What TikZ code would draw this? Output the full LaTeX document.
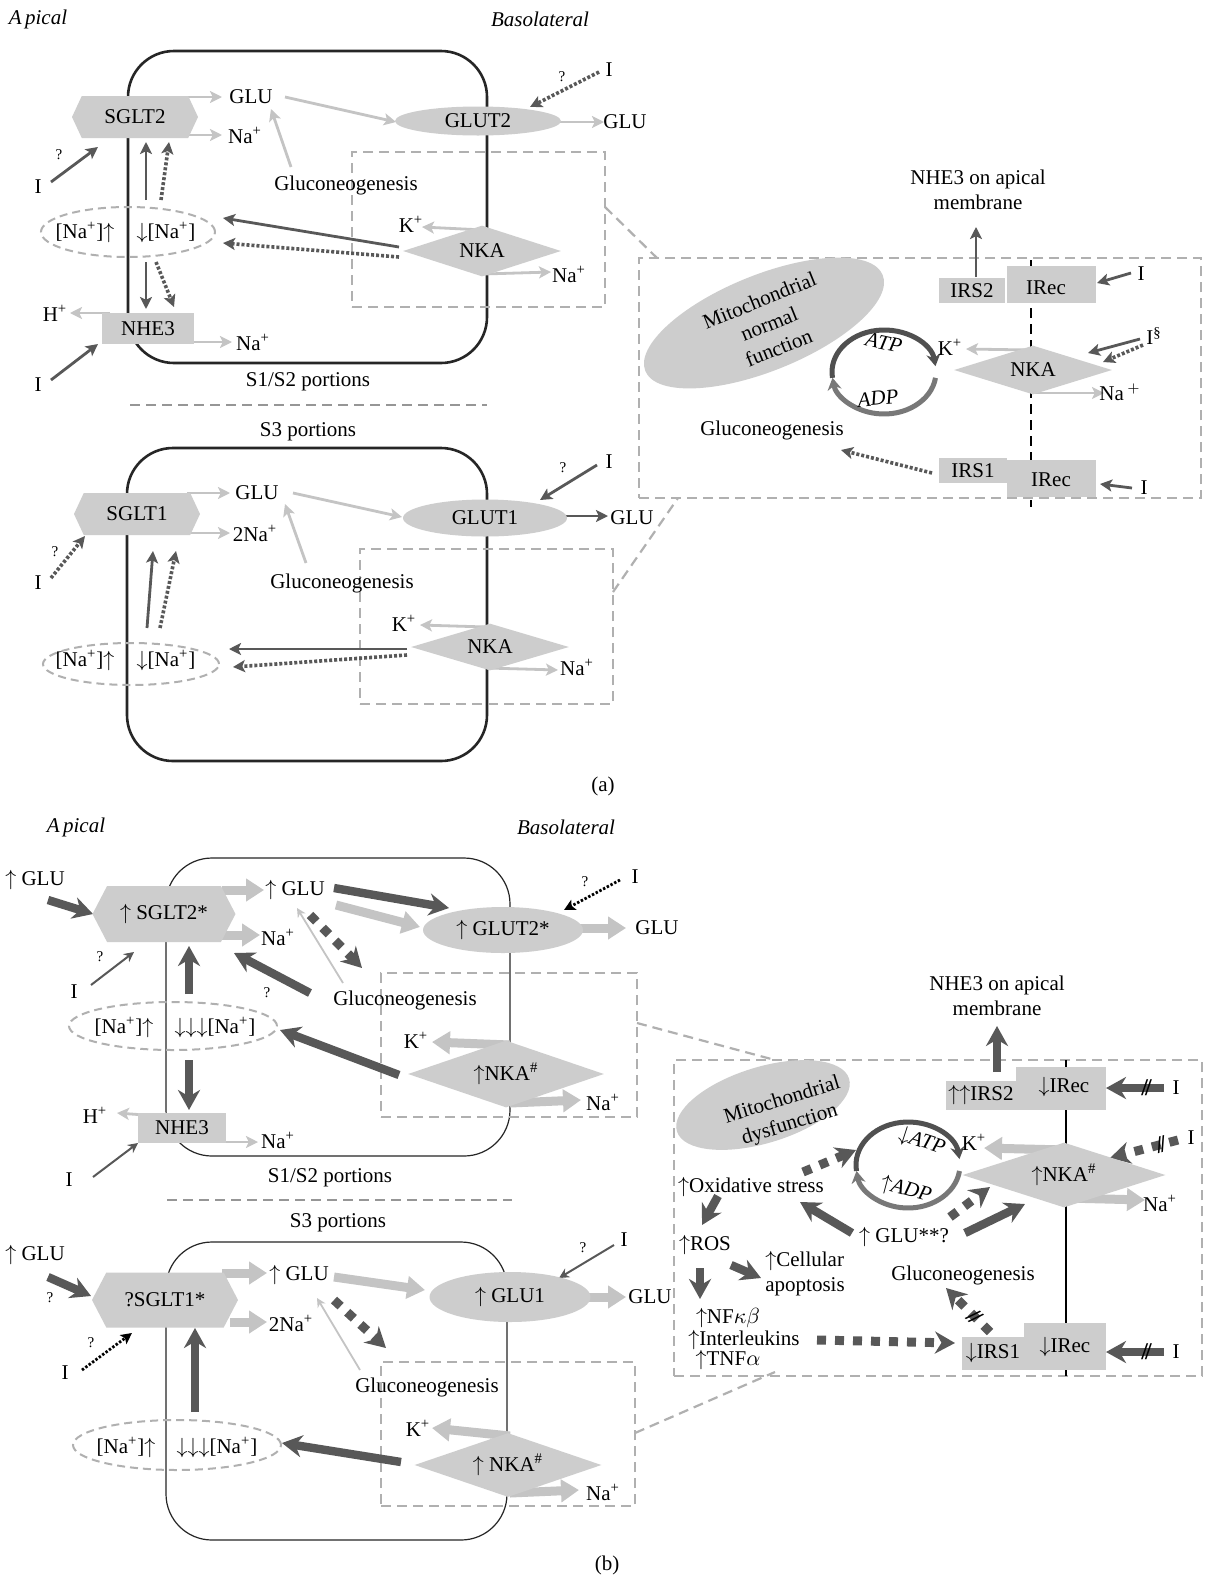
\documentclass[tikz,border=0pt]{standalone}
\usepackage{fontspec}
\setmainfont{Liberation Serif}
\usetikzlibrary{arrows.meta,shapes.geometric,shapes.symbols}
\definecolor{shg}{RGB}{205,205,205}
\definecolor{lgr}{RGB}{196,196,196}
\definecolor{dgr}{RGB}{88,88,88}
\definecolor{bxg}{RGB}{176,176,176}
\definecolor{cyA}{RGB}{80,80,80}
\definecolor{cyB}{RGB}{120,120,120}
\begin{document}
\begin{tikzpicture}[x=0.5pt,y=-0.5pt,
  every node/.style={inner sep=1pt, font=\fontsize{10.5}{12.5}\selectfont},
  it/.style={font=\itshape\fontsize{10.5}{12.5}\selectfont},
  q/.style={font=\fontsize{7.5}{8}\selectfont},
  cellA/.style={draw=black!85, line width=1.3pt, rounded corners=23pt, rectangle},
  cellB/.style={draw=black!85, line width=0.6pt, rounded corners=23pt, rectangle},
  dbox/.style={draw=bxg, line width=1.1pt, dash pattern=on 5pt off 3pt, rectangle},
  dln/.style={draw=bxg, line width=1.1pt, dash pattern=on 5pt off 3pt},
  dell/.style={ellipse, draw=bxg, line width=1pt, dash pattern=on 4pt off 2.5pt, inner sep=0},
  hexa/.style={signal, signal to=west and east, signal pointer angle=130, fill=shg, inner sep=0},
  ells/.style={ellipse, fill=shg, inner sep=0},
  dias/.style={diamond, aspect=3, fill=shg, inner sep=0},
  recs/.style={rectangle, fill=shg, inner sep=0},
  la/.style={draw=lgr, line width=1.4pt, -{Stealth[length=6pt,width=6pt,inset=1.4pt]}},
  da/.style={draw=dgr, line width=1.4pt, -{Stealth[length=6pt,width=6pt,inset=1.4pt]}},
  dd/.style={draw=dgr, line width=1.8pt, dash pattern=on 1.5pt off 1pt, -{Stealth[length=6pt,width=6pt,inset=1.4pt]}},
  bd/.style={draw=black, line width=1.4pt, dash pattern=on 1.2pt off 0.9pt, -{Stealth[length=5.5pt,width=5.5pt,inset=1.2pt]}},
  tla/.style={draw=lgr, line width=0.9pt, -{Stealth[length=4.5pt,width=4.5pt]}},
  tda/.style={draw=dgr, line width=1pt, -{Stealth[length=5pt,width=5pt]}},
  LA/.style={draw=lgr, line width=4.5pt, -{Triangle[length=9pt,width=11pt]}},
  DA/.style={draw=dgr, line width=4.2pt, -{Stealth[length=10pt,width=11pt]}},
  DD/.style={draw=dgr, line width=4.5pt, dash pattern=on 4.5pt off 4.5pt, -{Stealth[length=10pt,width=11pt]}},
  hashm/.style={sloped, inner sep=0, font=\bfseries\fontsize{12}{12}\selectfont, text=black},
  cyc1/.style={draw=cyA, line width=2.5pt, -{Stealth[length=6pt,width=7pt]}},
  cyc2/.style={draw=cyB, line width=2.5pt, -{Stealth[length=6pt,width=7pt]}},
  vdash/.style={draw=black, line width=1.1pt, dash pattern=on 5pt off 3pt},
  sepl/.style={draw=bxg!85!black, line width=1.1pt, dash pattern=on 5pt off 3pt}
]
\fill[white] (0,0) rectangle (1207,1575);
\useasboundingbox (0,0) rectangle (1207,1575);

% ================= (a) S1/S2 =================
\node[it] (apA) at (38,19) {A\,pical};
\node[it] (basA) at (540,19) {Basolateral};
\node[cellA, minimum width=179.5pt, minimum height=156pt] (cellA1) at (307.5,207) {};
\node[dbox, minimum width=126.5pt, minimum height=77.5pt] (boxA1) at (478.5,229.5) {};

\coordinate (a01) at (185,97); \coordinate (a02) at (222,97);
\coordinate (a03) at (185,135); \coordinate (a04) at (222,135);
\coordinate (a05) at (285,97); \coordinate (a06) at (396,122);
\coordinate (a07) at (291,167); \coordinate (a08) at (271,109);
\coordinate (a09) at (555,122); \coordinate (a10) at (604,122);
\coordinate (a11) at (599,72); \coordinate (a12) at (530,107);
\coordinate (a13) at (484,230); \coordinate (a14) at (422,227);
\coordinate (a15) at (484,274); \coordinate (a16) at (551,272);
\coordinate (a17) at (399,247); \coordinate (a18) at (223,218);
\coordinate (a19) at (399,257); \coordinate (a20) at (223,243);
\coordinate (a21) at (146,200); \coordinate (a22) at (146,142);
\coordinate (a23) at (161,200); \coordinate (a24) at (169,142);
\coordinate (a25) at (146,262); \coordinate (a26) at (146,309);
\coordinate (a27) at (156,262); \coordinate (a28) at (174,307);
\coordinate (a29) at (110,313); \coordinate (a30) at (70,313);
\coordinate (a31) at (188,342); \coordinate (a32) at (232,342);
\coordinate (a33) at (51,182); \coordinate (a34) at (98,147);
\coordinate (a35) at (51,380); \coordinate (a36) at (98,344);

\draw[la] (a01) -- (a02);
\draw[la] (a03) -- (a04);
\draw[la] (a05) -- (a06);
\draw[la] (a07) -- (a08);
\draw[la] (a09) -- (a10);
\draw[dd] (a11) -- (a12);
\draw[la] (a13) -- (a14);
\draw[la] (a15) -- (a16);
\draw[da] (a17) -- (a18);
\draw[dd] (a19) -- (a20);
\draw[da] (a21) -- (a22);
\draw[dd] (a23) -- (a24);
\draw[da] (a25) -- (a26);
\draw[dd] (a27) -- (a28);
\draw[la] (a29) -- (a30);
\draw[la] (a31) -- (a32);
\draw[da] (a33) -- (a34);
\draw[da] (a35) -- (a36);

\node[hexa, minimum width=63pt, minimum height=21pt] (sglt2) at (135,117) {SGLT2};
\node[ells, minimum width=83pt, minimum height=14.5pt] (glut2) at (478,121) {GLUT2};
\node[dias, minimum width=79pt, minimum height=25.5pt] (nkaA1) at (482,251) {NKA};
\node[recs, minimum width=46pt, minimum height=15.5pt] (nhe3) at (148,328.5) {NHE3};
\node[dell, minimum width=87pt, minimum height=25pt] (naeA1) at (128,232) {};
\node (naiA1) at (85,232) {[Na\textsuperscript{+}]$\uparrow$};
\node (nadA1) at (166,232) {$\downarrow$[Na\textsuperscript{+}]};
\node (gluA1) at (251,97) {GLU};
\node (naA1) at (245,135) {Na\textsuperscript{+}};
\node (gngA1) at (346,185) {Gluconeogenesis};
\node (gluA2) at (625,122) {GLU};
\node (iA1) at (609,70) {I};
\node[q] (qA1) at (562,77) {?};
\node (iA2) at (38,187) {I};
\node[q] (qA2) at (59,155) {?};
\node (iA3) at (38,385) {I};
\node (hA1) at (55,313) {H\textsuperscript{+}};
\node (naA2) at (253,342) {Na\textsuperscript{+}};
\node (kA1) at (411,224) {K\textsuperscript{+}};
\node (naA3) at (569,274) {Na\textsuperscript{+}};
\node (s12A) at (308,382) {S1/S2 portions};

\coordinate (sepA1) at (130,405); \coordinate (sepA2) at (487,405);
\draw[sepl] (sepA1) -- (sepA2);

% ================= (a) S3 =================
\node (s3A) at (308,432) {S3 portions};
\node[cellA, minimum width=180pt, minimum height=156.5pt] (cellA2) at (307,604.5) {};
\node[dbox, minimum width=126.5pt, minimum height=77.5pt] (boxA2) at (486.5,626.5) {};

\coordinate (b01) at (187,493); \coordinate (b02) at (230,493);
\coordinate (b03) at (187,533); \coordinate (b04) at (230,533);
\coordinate (b05) at (293,493); \coordinate (b06) at (402,517);
\coordinate (b07) at (306,563); \coordinate (b08) at (285,504);
\coordinate (b09) at (562,516); \coordinate (b10) at (608,516);
\coordinate (b11) at (597,465); \coordinate (b12) at (540,500);
\coordinate (b13) at (487,627); \coordinate (b14) at (420,625);
\coordinate (b15) at (487,668); \coordinate (b16) at (558,670);
\coordinate (b17) at (407,649); \coordinate (b18) at (229,649);
\coordinate (b19) at (407,655); \coordinate (b20) at (233,667);
\coordinate (b21) at (147,628); \coordinate (b22) at (153,551);
\coordinate (b23) at (160,628); \coordinate (b24) at (176,551);
\coordinate (b25) at (51,578); \coordinate (b26) at (85,536);

\draw[la] (b01) -- (b02);
\draw[la] (b03) -- (b04);
\draw[la] (b05) -- (b06);
\draw[la] (b07) -- (b08);
\draw[da] (b09) -- (b10);
\draw[da] (b11) -- (b12);
\draw[la] (b13) -- (b14);
\draw[la] (b15) -- (b16);
\draw[da] (b17) -- (b18);
\draw[dd] (b19) -- (b20);
\draw[da] (b21) -- (b22);
\draw[dd] (b23) -- (b24);
\draw[dd] (b25) -- (b26);

\node[hexa, minimum width=63pt, minimum height=21pt] (sglt1) at (137,514) {SGLT1};
\node[ells, minimum width=82pt, minimum height=18.5pt] (glut1) at (485,518) {GLUT1};
\node[dias, minimum width=79pt, minimum height=23.5pt] (nkaA2) at (490,647) {NKA};
\node[dell, minimum width=88pt, minimum height=21pt] (naeA2) at (131,664) {};
\node (naiA2) at (85,660) {[Na\textsuperscript{+}]$\uparrow$};
\node (nadA2) at (166,660) {$\downarrow$[Na\textsuperscript{+}]};
\node (gluA3) at (257,493) {GLU};
\node (naA4) at (255,533) {2Na\textsuperscript{+}};
\node (gngA2) at (342,583) {Gluconeogenesis};
\node (gluA4) at (632,518) {GLU};
\node (iA4) at (609,462) {I};
\node[q] (qA4) at (563,468) {?};
\node (kA2) at (404,623) {K\textsuperscript{+}};
\node (naA5) at (577,667) {Na\textsuperscript{+}};
\node (iA5) at (38,583) {I};
\node[q] (qA5) at (55,552) {?};
\node (labA) at (603,786) {(a)};

% ================= (a) inset =================
\node[dbox, minimum width=281pt, minimum height=120pt] (insA) at (920,378) {};
\coordinate (c01) at (605,207); \coordinate (c02) at (657,258);
\coordinate (c03) at (613,592); \coordinate (c04) at (678,498);
\draw[dln] (c01) -- (c02);
\draw[dln] (c03) -- (c04);

\node[ells, minimum width=128pt, minimum height=48pt, rotate=22] (mitoA) at (764,323) {};
\node[rotate=22, align=center, font=\fontsize{10.5}{12.8}\selectfont] (mitoAt) at (769,324) {Mitochondrial\\normal\\function};

\coordinate (cycA) at (884,372);
\begin{scope}[shift={(cycA)}, x=0.5pt, y=0.5pt]
  \draw[cyc1] (188:52 and 42) arc[start angle=188, end angle=8, x radius=52, y radius=42];
  \draw[cyc2] (-8:52 and 42) arc[start angle=-8, end angle=-172, x radius=52, y radius=42];
\end{scope}
\node[it, rotate=-12] (atpA) at (884,343) {ATP};
\node[it, rotate=6] (adpA) at (878,398) {ADP};

\coordinate (c09) at (1031,260); \coordinate (c10) at (1031,507);
\draw[vdash] (c09) -- (c10);

\coordinate (c05) at (1031,350); \coordinate (c06) at (966,349);
\coordinate (c07) at (1031,393); \coordinate (c08) at (1104,393);
\coordinate (c11) at (976,277); \coordinate (c12) at (976,227);
\coordinate (c13) at (1131,273); \coordinate (c14) at (1097,283);
\coordinate (c15) at (1140,339); \coordinate (c16) at (1088,353);
\coordinate (c17) at (1143,345); \coordinate (c18) at (1103,362);
\coordinate (c19) at (1132,488); \coordinate (c20) at (1100,484);
\coordinate (c21) at (932,473); \coordinate (c22) at (841,450);
\draw[la] (c05) -- (c06);
\draw[la] (c07) -- (c08);
\draw[da] (c11) -- (c12);
\draw[da] (c13) -- (c14);
\draw[da] (c15) -- (c16);
\draw[dd] (c17) -- (c18);
\draw[da] (c19) -- (c20);
\draw[dd] (c21) -- (c22);

\node[dias, minimum width=79pt, minimum height=24.5pt] (nkaA3) at (1033,370) {NKA};
\node[recs, minimum width=44.5pt, minimum height=18.5pt] (irecA1) at (1051.5,284.5) {};
\node[recs, minimum width=33pt, minimum height=12.5pt] (irsA2) at (972,290.5) {IRS2};
\node (irecA1t) at (1046,288) {IRec};
\node[recs, minimum width=44.5pt, minimum height=18.5pt] (irecA2) at (1051.5,478.5) {};
\node[recs, minimum width=34pt, minimum height=12.5pt] (irsA1) at (973,470.5) {IRS1};
\node (irecA2t) at (1051,480) {IRec};
\node (kA3) at (950,347) {K\textsuperscript{+}};
\node (naA6) at (1120,392) {Na\,$^{+}$};
\node[align=center] (nhe3tA) at (978,190) {NHE3 on apical\\membrane};
\node (iA6) at (1141,274) {I};
\node (iA7) at (1154,336) {I\textsuperscript{\S}};
\node (iA8) at (1144,488) {I};
\node (gngA3) at (772,430) {Gluconeogenesis};

% ================= (b) S1/S2 =================
\node[it] (apB) at (76,827) {A\,pical};
\node[it] (basB) at (566,827) {Basolateral};
\node[cellB, minimum width=172pt, minimum height=149pt] (cellB1) at (338,1007) {};
\node[dbox, minimum width=128pt, minimum height=72pt] (boxB1) at (509,1045) {};

\coordinate (d01) at (48,900); \coordinate (d02) at (93,914);
\coordinate (d03) at (222,890); \coordinate (d04) at (264,890);
\coordinate (d05) at (222,935); \coordinate (d06) at (260,935);
\coordinate (d07) at (334,888); \coordinate (d08) at (449,908);
\coordinate (d09) at (336,905); \coordinate (d10) at (420,927);
\coordinate (d11) at (578,928); \coordinate (d12) at (626,928);
\coordinate (d13) at (620,880); \coordinate (d14) at (564,910);
\coordinate (d15) at (310,915); \coordinate (d16) at (362,968);
\coordinate (d17) at (343,983); \coordinate (d18) at (297,908);
\coordinate (d19) at (310,993); \coordinate (d20) at (234,953);
\coordinate (d21) at (91,985); \coordinate (d22) at (134,952);
\coordinate (d23) at (189,994); \coordinate (d24) at (189,946);
\coordinate (d25) at (189,1060); \coordinate (d26) at (189,1110);
\coordinate (d27) at (510,1045); \coordinate (d28) at (432,1042);
\coordinate (d29) at (510,1103); \coordinate (d30) at (581,1100);
\coordinate (d31) at (399,1075); \coordinate (d32) at (280,1030);
\coordinate (d33) at (145,1115); \coordinate (d34) at (117,1113);
\coordinate (d35) at (222,1142); \coordinate (d36) at (258,1142);
\coordinate (d37) at (93,1177); \coordinate (d38) at (138,1143);
\coordinate (d39) at (637,1023); \coordinate (d40) at (775,1060);

\draw[DA] (d01) -- (d02);
\draw[LA] (d03) -- (d04);
\draw[LA] (d05) -- (d06);
\draw[DA] (d07) -- (d08);
\draw[LA] (d09) -- (d10);
\draw[LA] (d11) -- (d12);
\draw[bd] (d13) -- (d14);
\draw[DD] (d15) -- (d16);
\draw[tla] (d17) -- (d18);
\draw[DA] (d19) -- (d20);
\draw[tda] (d21) -- (d22);
\draw[DA] (d23) -- (d24);
\draw[DA] (d25) -- (d26);
\draw[LA] (d27) -- (d28);
\draw[LA] (d29) -- (d30);
\draw[DA] (d31) -- (d32);
\draw[la] (d33) -- (d34);
\draw[la] (d35) -- (d36);
\draw[tda] (d37) -- (d38);
\draw[dln] (d39) -- (d40);

\node[hexa, signal pointer angle=125, minimum width=71.5pt, minimum height=28pt] (sglt2b) at (164,914) {$\uparrow$ SGLT2*};
\node[ells, minimum width=80pt, minimum height=23pt] (glut2b) at (503,930) {$\uparrow$ GLUT2*};
\node[dias, minimum width=98pt, minimum height=33.5pt] (nkaB1) at (506,1074) {$\uparrow$NKA\textsuperscript{\#}};
\node[recs, minimum width=44pt, minimum height=15pt] (nhe3b) at (182,1128) {NHE3};
\node[dell, minimum width=104pt, minimum height=24pt] (naeB1) at (173,1026) {};
\node (naiB1) at (124,1027) {[Na\textsuperscript{+}]$\uparrow$};
\node (nadB1) at (215,1027) {$\downarrow\downarrow\downarrow$[Na\textsuperscript{+}]};
\node (gluB1) at (35,880) {$\uparrow$ GLU};
\node (gluB2) at (295,890) {$\uparrow$ GLU};
\node (naB1) at (278,937) {Na\textsuperscript{+}};
\node (gluB3) at (657,928) {GLU};
\node (iB1) at (635,877) {I};
\node[q] (qB1) at (585,882) {?};
\node (gngB1) at (405,1000) {Gluconeogenesis};
\node[q] (qB2) at (267,993) {?};
\node (iB2) at (74,992) {I};
\node[q] (qB3) at (100,957) {?};
\node (kB1) at (416,1040) {K\textsuperscript{+}};
\node (naB2) at (603,1102) {Na\textsuperscript{+}};
\node (hB1) at (95,1115) {H\textsuperscript{+}};
\node (naB3) at (278,1140) {Na\textsuperscript{+}};
\node (iB3) at (69,1180) {I};
\node (s12B) at (330,1178) {S1/S2 portions};
\coordinate (sepB1) at (167,1200); \coordinate (sepB2) at (512,1200);
\draw[sepl] (sepB1) -- (sepB2);

% ================= (b) S3 =================
\node (s3B) at (338,1223) {S3 portions};
\node[cellB, minimum width=170.5pt, minimum height=149pt] (cellB2) at (336.5,1391) {};
\node[dbox, minimum width=127pt, minimum height=72pt] (boxB2) at (508,1434) {};

\coordinate (e01) at (48,1277); \coordinate (e02) at (91,1296);
\coordinate (e03) at (222,1273); \coordinate (e04) at (267,1273);
\coordinate (e05) at (230,1322); \coordinate (e06) at (267,1322);
\coordinate (e07) at (334,1277); \coordinate (e08) at (425,1290);
\coordinate (e09) at (585,1297); \coordinate (e10) at (626,1297);
\coordinate (e11) at (614,1245); \coordinate (e12) at (559,1278);
\coordinate (e13) at (334,1300); \coordinate (e14) at (386,1348);
\coordinate (e15) at (360,1370); \coordinate (e16) at (317,1298);
\coordinate (e17) at (195,1412); \coordinate (e18) at (195,1328);
\coordinate (e19) at (82,1370); \coordinate (e20) at (132,1333);
\coordinate (e21) at (510,1436); \coordinate (e22) at (432,1428);
\coordinate (e23) at (510,1493); \coordinate (e24) at (579,1490);
\coordinate (e25) at (401,1462); \coordinate (e26) at (282,1443);
\coordinate (e27) at (635,1433); \coordinate (e28) at (775,1372);

\draw[DA] (e01) -- (e02);
\draw[LA] (e03) -- (e04);
\draw[LA] (e05) -- (e06);
\draw[LA] (e07) -- (e08);
\draw[LA] (e09) -- (e10);
\draw[tda] (e11) -- (e12);
\draw[DD] (e13) -- (e14);
\draw[tla] (e15) -- (e16);
\draw[DA] (e17) -- (e18);
\draw[bd] (e19) -- (e20);
\draw[LA] (e21) -- (e22);
\draw[LA] (e23) -- (e24);
\draw[DA] (e25) -- (e26);
\draw[dln] (e27) -- (e28);

\node[hexa, signal pointer angle=125, minimum width=73pt, minimum height=27.5pt] (sglt1b) at (165,1300) {?SGLT1*};
\node[ells, minimum width=80.5pt, minimum height=25pt] (glu1b) at (510,1297) {$\uparrow$ GLU1};
\node[dias, minimum width=93.5pt, minimum height=32pt] (nkaB2) at (508,1465) {$\uparrow$ NKA\textsuperscript{\#}};
\node[dell, minimum width=104pt, minimum height=25pt] (naeB2) at (177,1445) {};
\node (naiB2) at (126,1447) {[Na\textsuperscript{+}]$\uparrow$};
\node (nadB2) at (217,1447) {$\downarrow\downarrow\downarrow$[Na\textsuperscript{+}]};
\node (gluB4) at (35,1255) {$\uparrow$ GLU};
\node[q] (qB4) at (50,1298) {?};
\node (gluB5) at (299,1275) {$\uparrow$ GLU};
\node (naB4) at (291,1323) {2Na\textsuperscript{+}};
\node (gluB6) at (650,1297) {GLU};
\node (iB4) at (624,1240) {I};
\node[q] (qB5) at (583,1248) {?};
\node (gngB2) at (427,1387) {Gluconeogenesis};
\node (iB5) at (65,1373) {I};
\node[q] (qB6) at (91,1343) {?};
\node (kB2) at (418,1428) {K\textsuperscript{+}};
\node (naB5) at (603,1492) {Na\textsuperscript{+}};
\node (labB) at (607,1565) {(b)};

% ================= (b) inset =================
\node[dbox, minimum width=264pt, minimum height=158pt] (insB) at (938,1218) {};
\node[align=center] (nhe3tB) at (997,996) {NHE3 on apical\\membrane};
\node[ells, minimum width=90pt, minimum height=38pt, rotate=17] (mitoB) at (763,1105) {};
\node[rotate=17, align=center, font=\fontsize{10.5}{12.8}\selectfont] (mitoBt) at (786,1113) {Mitochondrial\\dysfunction};

\coordinate (cycB) at (908,1165);
\begin{scope}[shift={(cycB)}, x=0.5pt, y=0.5pt]
  \draw[cyc1] (188:52 and 43) arc[start angle=188, end angle=8, x radius=52, y radius=43];
  \draw[cyc2] (-8:52 and 43) arc[start angle=-8, end angle=-172, x radius=52, y radius=43];
\end{scope}
\node[it, rotate=-18] (atpB) at (922,1142) {$\downarrow$ATP};
\node[it, rotate=-15] (adpB) at (906,1190) {$\uparrow$ADP};

\coordinate (f05) at (1066,1060); \coordinate (f06) at (1066,1376);
\draw[black, line width=0.6pt] (f05) -- (f06);

\coordinate (f01) at (1066,1150); \coordinate (f02) at (984,1148);
\coordinate (f03) at (1066,1198); \coordinate (f04) at (1145,1200);
\coordinate (f07) at (997,1072); \coordinate (f08) at (997,1026);
\coordinate (f09) at (1164,1088); \coordinate (f10) at (1106,1088);
\coordinate (f11) at (1178,1140); \coordinate (f12) at (1110,1158);
\coordinate (f13) at (1164,1352); \coordinate (f14) at (1106,1352);
\coordinate (f15) at (990,1332); \coordinate (f16) at (946,1288);
\coordinate (f17) at (852,1233); \coordinate (f18) at (800,1202);
\coordinate (f19) at (965,1233); \coordinate (f20) at (1025,1204);
\coordinate (f21) at (950,1217); \coordinate (f22) at (990,1187);
\coordinate (f23) at (803,1172); \coordinate (f24) at (856,1150);
\coordinate (f25) at (718,1196); \coordinate (f26) at (702,1225);
\coordinate (f27) at (700,1268); \coordinate (f28) at (700,1299);
\coordinate (f29) at (731,1265); \coordinate (f30) at (761,1278);
\coordinate (f31) at (817,1340); \coordinate (f32) at (955,1343);

\draw[LA] (f01) -- (f02);
\draw[LA] (f03) -- (f04);
\draw[DA] (f07) -- (f08);
\draw[DA] (f09) -- node[hashm, pos=0.3] {/\kern-1.5pt/} (f10);
\draw[DD] (f11) -- node[hashm, pos=0.25] {/\kern-1.5pt/} (f12);
\draw[DA] (f13) -- node[hashm, pos=0.3] {/\kern-1.5pt/} (f14);
\draw[DD] (f15) -- node[hashm, pos=0.35] {/\kern-1.5pt/} (f16);
\draw[DA] (f17) -- (f18);
\draw[DA] (f19) -- (f20);
\draw[DD] (f21) -- (f22);
\draw[DD] (f23) -- (f24);
\draw[DA] (f25) -- (f26);
\draw[DA] (f27) -- (f28);
\draw[DA] (f29) -- (f30);
\draw[DD] (f31) -- (f32);

\node[dias, minimum width=101.5pt, minimum height=32.5pt] (nkaB3) at (1064,1175) {$\uparrow$NKA\textsuperscript{\#}};
\node[recs, minimum width=45pt, minimum height=21.5pt] (irecB1) at (1061,1088.5) {};
\node[recs, minimum width=35pt, minimum height=14.5pt] (irsB2) at (981,1095.5) {$\uparrow\uparrow$IRS2};
\node (irecB1t) at (1064,1087) {$\downarrow$IRec};
\node[recs, minimum width=41pt, minimum height=23.5pt] (irecB2) at (1065,1346.5) {};
\node[recs, minimum width=31pt, minimum height=16.5pt] (irsB1) at (993,1353.5) {$\downarrow$IRS1};
\node (irecB2t) at (1065,1347) {$\downarrow$IRec};
\node (kB3) at (974,1142) {K\textsuperscript{+}};
\node (naB6) at (1160,1203) {Na\textsuperscript{+}};
\node (iB6) at (1176,1088) {I};
\node (iB7) at (1191,1138) {I};
\node (iB8) at (1176,1352) {I};
\node (gngB3) at (963,1275) {Gluconeogenesis};
\node (gluB7) at (904,1237) {$\uparrow$ GLU**?};
\node (oxB) at (751,1187) {$\uparrow$Oxidative stress};
\node (rosB) at (705,1245) {$\uparrow$ROS};
\node[align=left, anchor=west] (apopB) at (763,1274) {$\uparrow$Cellular\\apoptosis};
\node (nfB) at (728,1318) {$\uparrow$NF$\kappa\beta$};
\node (ilB) at (744,1340) {$\uparrow$Interleukins};
\node (tnfB) at (728,1360) {$\uparrow$TNF$\alpha$};
\end{tikzpicture}
\end{document}
